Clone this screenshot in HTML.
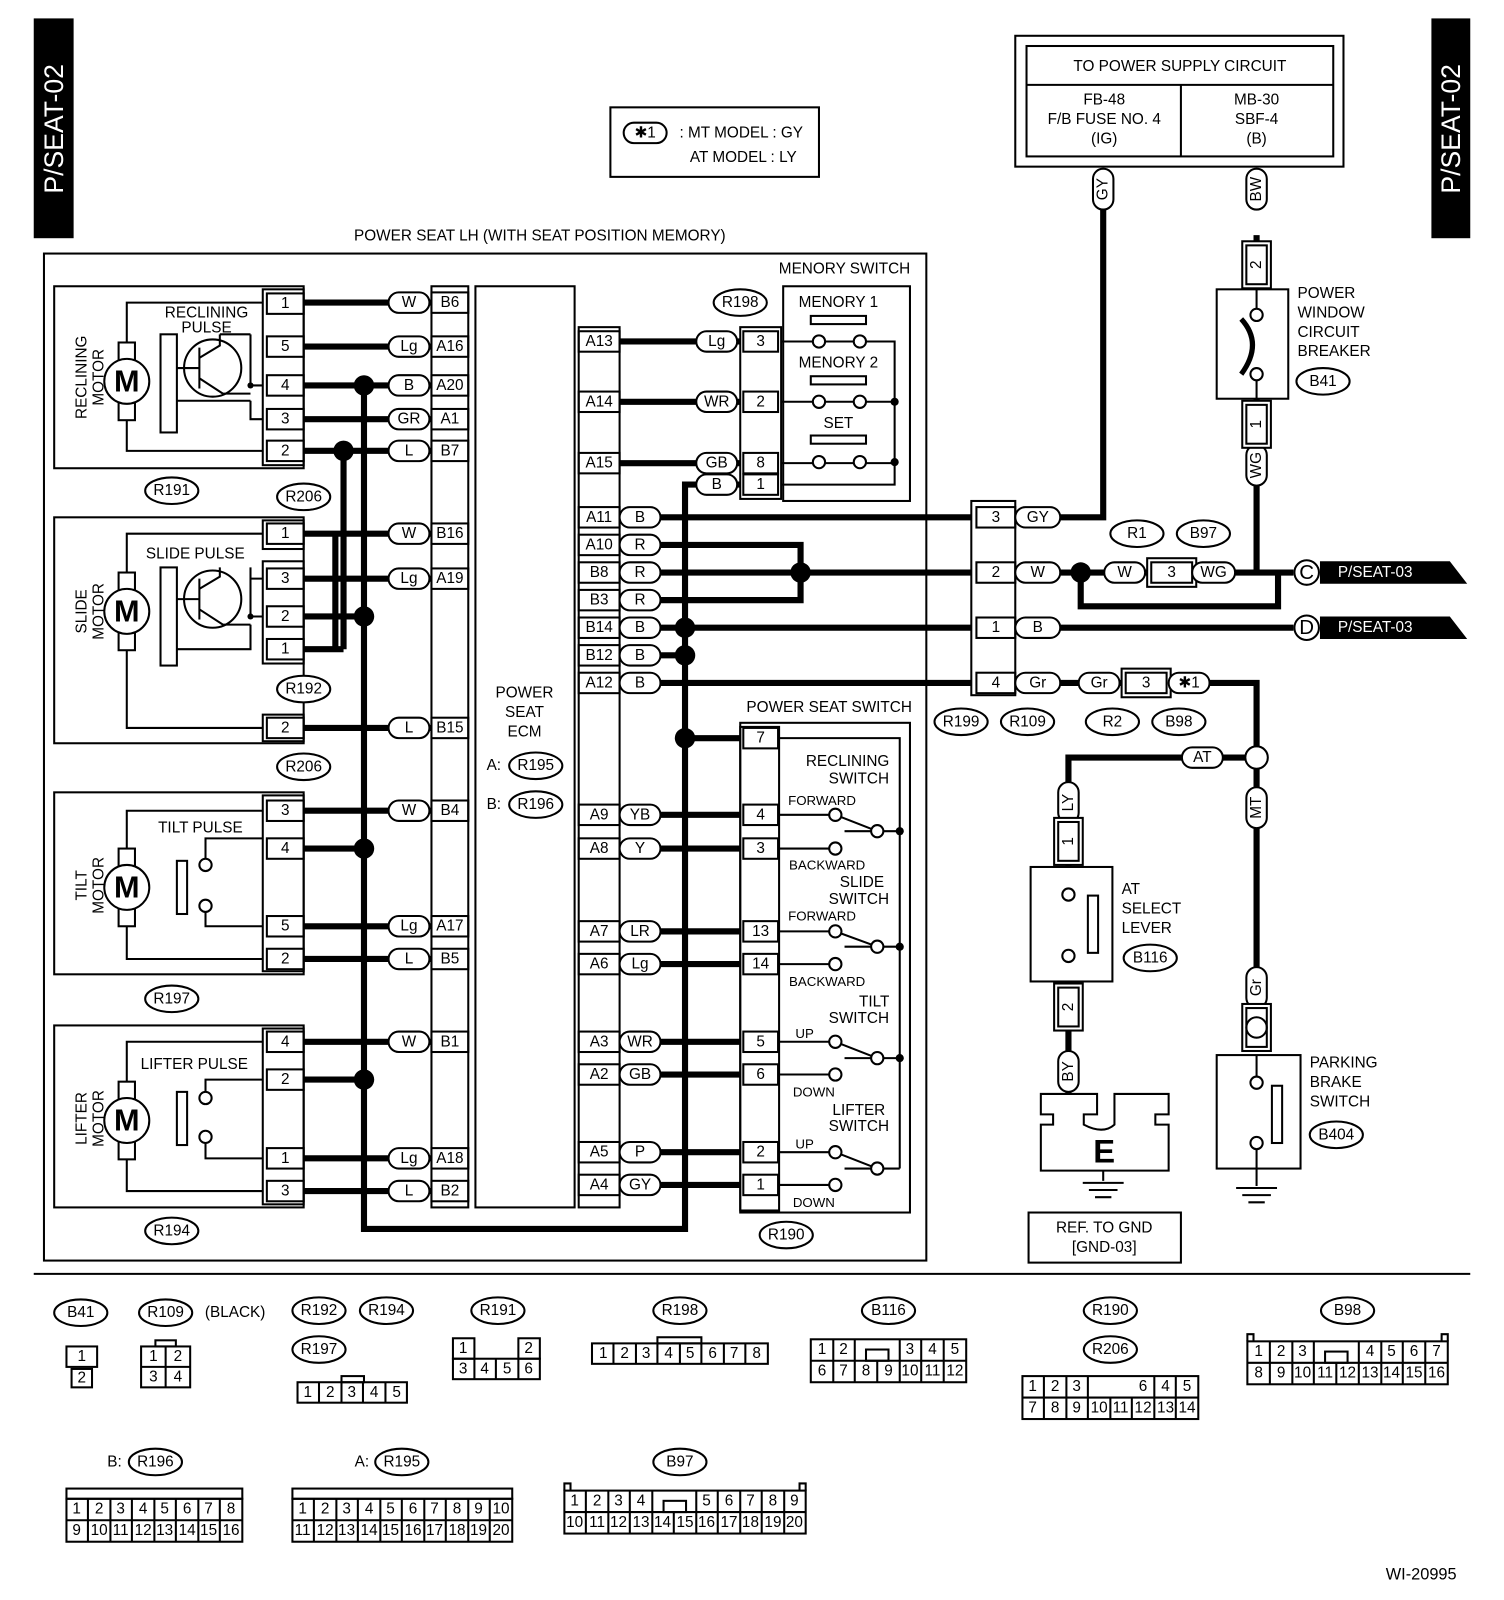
<!DOCTYPE html>
<html><head><meta charset="utf-8"><style>
html,body{margin:0;padding:0;background:#fff}
svg{display:block}
text{font-family:"Liberation Sans",sans-serif;font-size:15px;fill:#000;text-anchor:middle;dominant-baseline:central}
.t{stroke:#000;stroke-width:6;fill:none}
.n{stroke:#000;stroke-width:2;fill:none}
.o{stroke:#000;stroke-width:2;fill:#fff}
.s{font-size:13px}
</style></head><body>
<svg width="1504" height="1600" viewBox="0 0 1471 1565" preserveAspectRatio="none" xmlns="http://www.w3.org/2000/svg">
<rect x="33" y="18" width="39" height="215" fill="#000"/>
<text transform="translate(53,126) rotate(-90)" style="fill:#fff;font-size:26px">P/SEAT-02</text>
<rect x="1400" y="18" width="38" height="215" fill="#000"/>
<text transform="translate(1419,126) rotate(-90)" style="fill:#fff;font-size:26px">P/SEAT-02</text>

<rect x="597" y="105" width="204" height="68" class="n"/>
<rect x="610" y="120" width="42" height="20" rx="10" class="o"/>
<text x="631" y="130">✱1</text>
<text x="725" y="130">: MT MODEL : GY</text>
<text x="727" y="154">AT MODEL  : LY</text>

<rect x="993" y="35" width="321" height="128" class="n"/>
<rect x="1004" y="45" width="300" height="108" class="n"/>
<line x1="1004" y1="83" x2="1304" y2="83" class="n"/>
<line x1="1155" y1="83" x2="1155" y2="153" class="n"/>
<text x="1154" y="65">TO POWER SUPPLY CIRCUIT</text>
<text x="1080" y="98">FB-48</text><text x="1080" y="117">F/B FUSE NO. 4</text><text x="1080" y="136">(IG)</text>
<text x="1229" y="98">MB-30</text><text x="1229" y="117">SBF-4</text><text x="1229" y="136">(B)</text>

<text x="528" y="231">POWER SEAT LH (WITH SEAT POSITION MEMORY)</text>
<rect x="43" y="248" width="863" height="985" class="n"/>

<rect x="53" y="280" width="244" height="178" class="n"/>
<rect x="53" y="506" width="244" height="221" class="n"/>
<rect x="53" y="775" width="244" height="178" class="n"/>
<rect x="53" y="1003" width="244" height="178" class="n"/>
<text transform="translate(80,369) rotate(-90)">RECLINING</text><text transform="translate(97,369) rotate(-90)">MOTOR</text>
<text transform="translate(80,598) rotate(-90)">SLIDE</text><text transform="translate(97,598) rotate(-90)">MOTOR</text>
<text transform="translate(80,866) rotate(-90)">TILT</text><text transform="translate(97,866) rotate(-90)">MOTOR</text>
<text transform="translate(80,1094) rotate(-90)">LIFTER</text><text transform="translate(97,1094) rotate(-90)">MOTOR</text>
<g>
<rect x="116" y="335" width="16" height="76" class="n"/><circle cx="124" cy="373" r="22" class="o"/><text x="124" y="373" style="font-size:30px;font-weight:bold">M</text>
<rect x="116" y="560" width="16" height="76" class="n"/><circle cx="124" cy="598" r="22" class="o"/><text x="124" y="598" style="font-size:30px;font-weight:bold">M</text>
<rect x="116" y="830" width="16" height="76" class="n"/><circle cx="124" cy="868" r="22" class="o"/><text x="124" y="868" style="font-size:30px;font-weight:bold">M</text>
<rect x="116" y="1058" width="16" height="76" class="n"/><circle cx="124" cy="1096" r="22" class="o"/><text x="124" y="1096" style="font-size:30px;font-weight:bold">M</text>
</g>
<path class="n" d="M124,335 V296 H257 M124,411 V441 H257 M124,560 V522 H257 M124,636 V712 H257 M124,830 V793 H257 M124,906 V938 H257 M124,1058 V1019 H257 M124,1134 V1165 H257"/>
<text x="202" y="306">RECLINING</text><text x="202" y="321">PULSE</text>
<rect x="157" y="327" width="16" height="96" class="n"/><circle cx="208" cy="360" r="28" class="n"/>
<path class="n" d="M195,340 V380 M195,360 H173 M195,350 L215,338 V327 M195,370 L218,385 M218,385 H245 M245,327 V377 H257 M245,392 V410 H257 M173,392 H245 M215,327 H245"/>
<circle cx="245" cy="377" r="3"/>
<text x="191" y="542">SLIDE PULSE</text>
<rect x="157" y="555" width="16" height="96" class="n"/><circle cx="208" cy="586" r="28" class="n"/>
<path class="n" d="M195,566 V606 M195,586 H173 M195,576 L215,564 V555 M195,596 L218,611 H245 M245,555 V603 H257 M245,566 H257 M173,635 H245 V611"/>
<circle cx="245" cy="603" r="3"/>
<text x="196" y="810">TILT PULSE</text>
<rect x="173" y="842" width="10" height="52" class="n"/><circle cx="201" cy="846" r="6" class="o"/><circle cx="201" cy="886" r="6" class="o"/>
<path class="n" d="M201,840 V820 H257 M201,892 V906 H257"/>
<text x="190" y="1041">LIFTER PULSE</text>
<rect x="173" y="1068" width="10" height="52" class="n"/><circle cx="201" cy="1074" r="6" class="o"/><circle cx="201" cy="1112" r="6" class="o"/>
<path class="n" d="M201,1068 V1056 H257 M201,1118 V1133 H257"/>

<g class="n">
<rect x="257" y="283" width="40" height="172"/><rect x="261" y="287" width="36" height="20"/>
<rect x="261" y="329" width="36" height="20"/><rect x="261" y="367" width="36" height="20"/><rect x="261" y="400" width="36" height="20"/><rect x="261" y="431" width="36" height="20"/>
<rect x="257" y="509" width="40" height="28"/><rect x="261" y="512" width="36" height="20"/>
<rect x="257" y="549" width="40" height="100"/><rect x="261" y="556" width="36" height="20"/><rect x="261" y="593" width="36" height="20"/><rect x="261" y="625" width="36" height="20"/>
<rect x="257" y="699" width="40" height="26"/><rect x="261" y="702" width="36" height="20"/>
<rect x="257" y="778" width="40" height="172"/><rect x="261" y="783" width="36" height="20"/><rect x="261" y="820" width="36" height="20"/><rect x="261" y="896" width="36" height="20"/><rect x="261" y="928" width="36" height="20"/>
<rect x="257" y="1006" width="40" height="172"/><rect x="261" y="1009" width="36" height="20"/><rect x="261" y="1046" width="36" height="20"/><rect x="261" y="1123" width="36" height="20"/><rect x="261" y="1155" width="36" height="20"/>
</g>
<text x="279" y="297">1</text><text x="279" y="339">5</text><text x="279" y="377">4</text><text x="279" y="410">3</text><text x="279" y="441">2</text>
<text x="279" y="522">1</text><text x="279" y="566">3</text><text x="279" y="603">2</text><text x="279" y="635">1</text><text x="279" y="712">2</text>
<text x="279" y="793">3</text><text x="279" y="830">4</text><text x="279" y="906">5</text><text x="279" y="938">2</text>
<text x="279" y="1019">4</text><text x="279" y="1056">2</text><text x="279" y="1133">1</text><text x="279" y="1165">3</text>

<path class="t" d="M297,296H422 M297,339H422 M297,377H422 M297,410H422 M297,441H422 M297,522H422 M297,566H422 M297,603H356 M297,635H336 M297,712H422 M297,793H422 M297,830H356 M297,906H422 M297,938H422 M297,1019H422 M297,1056H356 M297,1133H422 M297,1165H422"/>
<path class="t" d="M356,377V1202H670V474H700 M336,441V635 M328,522V635"/>
<circle cx="356" cy="377" r="10"/><circle cx="336" cy="441" r="10"/><circle cx="356" cy="603" r="10"/><circle cx="356" cy="830" r="10"/><circle cx="356" cy="1056" r="10"/>
<g>
<rect x="380" y="286" width="40" height="20" rx="10" class="o"/><text x="400" y="296">W</text>
<rect x="380" y="329" width="40" height="20" rx="10" class="o"/><text x="400" y="339">Lg</text>
<rect x="380" y="367" width="40" height="20" rx="10" class="o"/><text x="400" y="377">B</text>
<rect x="380" y="400" width="40" height="20" rx="10" class="o"/><text x="400" y="410">GR</text>
<rect x="380" y="431" width="40" height="20" rx="10" class="o"/><text x="400" y="441">L</text>
<rect x="380" y="512" width="40" height="20" rx="10" class="o"/><text x="400" y="522">W</text>
<rect x="380" y="556" width="40" height="20" rx="10" class="o"/><text x="400" y="566">Lg</text>
<rect x="380" y="702" width="40" height="20" rx="10" class="o"/><text x="400" y="712">L</text>
<rect x="380" y="783" width="40" height="20" rx="10" class="o"/><text x="400" y="793">W</text>
<rect x="380" y="896" width="40" height="20" rx="10" class="o"/><text x="400" y="906">Lg</text>
<rect x="380" y="928" width="40" height="20" rx="10" class="o"/><text x="400" y="938">L</text>
<rect x="380" y="1009" width="40" height="20" rx="10" class="o"/><text x="400" y="1019">W</text>
<rect x="380" y="1123" width="40" height="20" rx="10" class="o"/><text x="400" y="1133">Lg</text>
<rect x="380" y="1155" width="40" height="20" rx="10" class="o"/><text x="400" y="1165">L</text>
</g>
<rect x="422" y="280" width="36" height="901" class="n"/>
<rect x="465" y="280" width="97" height="901" class="n"/>
<g class="n">
<rect x="422" y="286" width="36" height="20"/><rect x="422" y="329" width="36" height="20"/><rect x="422" y="367" width="36" height="20"/><rect x="422" y="400" width="36" height="20"/><rect x="422" y="431" width="36" height="20"/><rect x="422" y="512" width="36" height="20"/><rect x="422" y="556" width="36" height="20"/><rect x="422" y="702" width="36" height="20"/><rect x="422" y="783" width="36" height="20"/><rect x="422" y="896" width="36" height="20"/><rect x="422" y="928" width="36" height="20"/><rect x="422" y="1009" width="36" height="20"/><rect x="422" y="1123" width="36" height="20"/><rect x="422" y="1155" width="36" height="20"/>
</g>
<text x="440" y="296">B6</text><text x="440" y="339">A16</text><text x="440" y="377">A20</text><text x="440" y="410">A1</text><text x="440" y="441">B7</text><text x="440" y="522">B16</text><text x="440" y="566">A19</text><text x="440" y="712">B15</text><text x="440" y="793">B4</text><text x="440" y="906">A17</text><text x="440" y="938">B5</text><text x="440" y="1019">B1</text><text x="440" y="1133">A18</text><text x="440" y="1165">B2</text>
<text x="513" y="678">POWER</text><text x="513" y="697">SEAT</text><text x="513" y="716">ECM</text>
<text x="483" y="749">A:</text><ellipse cx="524" cy="749" rx="26" ry="13" class="o"/><text x="524" y="749">R195</text>
<text x="483" y="787">B:</text><ellipse cx="524" cy="787" rx="26" ry="13" class="o"/><text x="524" y="787">R196</text>

<rect x="566" y="320" width="40" height="861" class="n"/>
<g class="n">
<rect x="566" y="324" width="40" height="20"/><rect x="566" y="383" width="40" height="20"/><rect x="566" y="443" width="40" height="20"/><rect x="566" y="496" width="40" height="20"/><rect x="566" y="523" width="40" height="20"/><rect x="566" y="550" width="40" height="20"/><rect x="566" y="577" width="40" height="20"/><rect x="566" y="604" width="40" height="20"/><rect x="566" y="631" width="40" height="20"/><rect x="566" y="658" width="40" height="20"/><rect x="566" y="787" width="40" height="20"/><rect x="566" y="820" width="40" height="20"/><rect x="566" y="901" width="40" height="20"/><rect x="566" y="933" width="40" height="20"/><rect x="566" y="1009" width="40" height="20"/><rect x="566" y="1041" width="40" height="20"/><rect x="566" y="1117" width="40" height="20"/><rect x="566" y="1149" width="40" height="20"/>
</g>
<text x="586" y="334">A13</text><text x="586" y="393">A14</text><text x="586" y="453">A15</text><text x="586" y="506">A11</text><text x="586" y="533">A10</text><text x="586" y="560">B8</text><text x="586" y="587">B3</text><text x="586" y="614">B14</text><text x="586" y="641">B12</text><text x="586" y="668">A12</text><text x="586" y="797">A9</text><text x="586" y="830">A8</text><text x="586" y="911">A7</text><text x="586" y="943">A6</text><text x="586" y="1019">A3</text><text x="586" y="1051">A2</text><text x="586" y="1127">A5</text><text x="586" y="1159">A4</text>

<path class="t" d="M606,334H724 M606,393H724 M606,453H724 M700,474H724 M606,506H950 M606,533H783V587H606 M606,560H950 M606,614H950 M606,641H670 M606,668H950 M670,722H724 M606,797H724 M606,830H724 M606,911H724 M606,943H724 M606,1019H724 M606,1051H724 M606,1127H724 M606,1159H724"/>
<circle cx="783" cy="560" r="10"/><circle cx="670" cy="614" r="10"/><circle cx="670" cy="641" r="10"/><circle cx="670" cy="722" r="10"/>
<g>
<rect x="606" y="496" width="40" height="20" rx="10" class="o"/><text x="626" y="506">B</text>
<rect x="606" y="523" width="40" height="20" rx="10" class="o"/><text x="626" y="533">R</text>
<rect x="606" y="550" width="40" height="20" rx="10" class="o"/><text x="626" y="560">R</text>
<rect x="606" y="577" width="40" height="20" rx="10" class="o"/><text x="626" y="587">R</text>
<rect x="606" y="604" width="40" height="20" rx="10" class="o"/><text x="626" y="614">B</text>
<rect x="606" y="631" width="40" height="20" rx="10" class="o"/><text x="626" y="641">B</text>
<rect x="606" y="658" width="40" height="20" rx="10" class="o"/><text x="626" y="668">B</text>
<rect x="606" y="787" width="40" height="20" rx="10" class="o"/><text x="626" y="797">YB</text>
<rect x="606" y="820" width="40" height="20" rx="10" class="o"/><text x="626" y="830">Y</text>
<rect x="606" y="901" width="40" height="20" rx="10" class="o"/><text x="626" y="911">LR</text>
<rect x="606" y="933" width="40" height="20" rx="10" class="o"/><text x="626" y="943">Lg</text>
<rect x="606" y="1009" width="40" height="20" rx="10" class="o"/><text x="626" y="1019">WR</text>
<rect x="606" y="1041" width="40" height="20" rx="10" class="o"/><text x="626" y="1051">GB</text>
<rect x="606" y="1117" width="40" height="20" rx="10" class="o"/><text x="626" y="1127">P</text>
<rect x="606" y="1149" width="40" height="20" rx="10" class="o"/><text x="626" y="1159">GY</text>
<rect x="681" y="324" width="40" height="20" rx="10" class="o"/><text x="701" y="334">Lg</text>
<rect x="681" y="383" width="40" height="20" rx="10" class="o"/><text x="701" y="393">WR</text>
<rect x="681" y="443" width="40" height="20" rx="10" class="o"/><text x="701" y="453">GB</text>
<rect x="681" y="464" width="40" height="20" rx="10" class="o"/><text x="701" y="474">B</text>
</g>

<text x="826" y="263">MENORY SWITCH</text>
<ellipse cx="724" cy="296" rx="26" ry="13" class="o"/><text x="724" y="296">R198</text>
<rect x="766" y="280" width="124" height="210" class="n"/>
<rect x="724" y="320" width="40" height="168" class="n"/>
<g class="n"><rect x="727" y="324" width="34" height="20"/><rect x="727" y="383" width="34" height="20"/><rect x="727" y="443" width="34" height="20"/><rect x="727" y="464" width="34" height="20"/></g>
<text x="744" y="334">3</text><text x="744" y="393">2</text><text x="744" y="453">8</text><text x="744" y="474">1</text>
<text x="820" y="296">MENORY 1</text><text x="820" y="355">MENORY 2</text><text x="820" y="414">SET</text>
<g class="n">
<rect x="793" y="309" width="54" height="8"/><rect x="793" y="368" width="54" height="8"/><rect x="793" y="426" width="54" height="8"/>
<path d="M764,334H795 M807,334H835 M847,334H875V452 M764,393H795 M807,393H835 M847,393H875 M764,453H795 M807,453H835 M847,453H875 M764,474H875V452"/>
</g>
<circle cx="801" cy="334" r="6" class="o"/><circle cx="841" cy="334" r="6" class="o"/><circle cx="801" cy="393" r="6" class="o"/><circle cx="841" cy="393" r="6" class="o"/><circle cx="801" cy="452" r="6" class="o"/><circle cx="841" cy="452" r="6" class="o"/>
<circle cx="875" cy="393" r="4"/><circle cx="875" cy="452" r="4"/>

<text x="811" y="692">POWER SEAT SWITCH</text>
<rect x="724" y="707" width="166" height="479" class="n"/>
<rect x="724" y="711" width="38" height="473" class="n"/>
<g class="n"><rect x="727" y="712" width="34" height="20"/><rect x="727" y="787" width="34" height="20"/><rect x="727" y="820" width="34" height="20"/><rect x="727" y="901" width="34" height="20"/><rect x="727" y="933" width="34" height="20"/><rect x="727" y="1009" width="34" height="20"/><rect x="727" y="1041" width="34" height="20"/><rect x="727" y="1117" width="34" height="20"/><rect x="727" y="1149" width="34" height="20"/></g>
<text x="744" y="722">7</text><text x="744" y="797">4</text><text x="744" y="830">3</text><text x="744" y="911">13</text><text x="744" y="943">14</text><text x="744" y="1019">5</text><text x="744" y="1051">6</text><text x="744" y="1127">2</text><text x="744" y="1159">1</text>
<text x="829" y="745">RECLINING</text><text x="840" y="762">SWITCH</text>
<text x="804" y="783" class="s">FORWARD</text><text x="809" y="846" class="s">BACKWARD</text>
<text x="843" y="863">SLIDE</text><text x="840" y="880">SWITCH</text>
<text x="804" y="896" class="s">FORWARD</text><text x="809" y="960" class="s">BACKWARD</text>
<text x="855" y="980">TILT</text><text x="840" y="996">SWITCH</text>
<text x="787" y="1011" class="s">UP</text><text x="796" y="1068" class="s">DOWN</text>
<text x="840" y="1086">LIFTER</text><text x="840" y="1102">SWITCH</text>
<text x="787" y="1119" class="s">UP</text><text x="796" y="1176" class="s">DOWN</text>
<g class="n">
<path d="M762,722H880V1143 M762,797H817 M762,830H817 M762,911H817 M762,943H817 M762,1019H817 M762,1051H817 M762,1127H817 M762,1159H817"/>
<path d="M826,813H880 M826,926H880 M826,1035H880 M826,1143H880"/>
<path d="M817,797L858,813 M817,911L858,926 M817,1019L858,1035 M817,1127L858,1143"/>
</g>
<g>
<circle cx="817" cy="797" r="6" class="o"/><circle cx="817" cy="830" r="6" class="o"/><circle cx="858" cy="813" r="6" class="o"/>
<circle cx="817" cy="911" r="6" class="o"/><circle cx="817" cy="943" r="6" class="o"/><circle cx="858" cy="926" r="6" class="o"/>
<circle cx="817" cy="1019" r="6" class="o"/><circle cx="817" cy="1051" r="6" class="o"/><circle cx="858" cy="1035" r="6" class="o"/>
<circle cx="817" cy="1127" r="6" class="o"/><circle cx="817" cy="1159" r="6" class="o"/><circle cx="858" cy="1143" r="6" class="o"/>
<circle cx="880" cy="813" r="4"/><circle cx="880" cy="926" r="4"/><circle cx="880" cy="1035" r="4"/>
</g>

<g>
<ellipse cx="168" cy="480" rx="26" ry="13" class="o"/><text x="168" y="480">R191</text>
<ellipse cx="297" cy="486" rx="26" ry="13" class="o"/><text x="297" y="486">R206</text>
<ellipse cx="297" cy="674" rx="26" ry="13" class="o"/><text x="297" y="674">R192</text>
<ellipse cx="297" cy="750" rx="26" ry="13" class="o"/><text x="297" y="750">R206</text>
<ellipse cx="168" cy="977" rx="26" ry="13" class="o"/><text x="168" y="977">R197</text>
<ellipse cx="168" cy="1204" rx="26" ry="13" class="o"/><text x="168" y="1204">R194</text>
<ellipse cx="769" cy="1208" rx="26" ry="13" class="o"/><text x="769" y="1208">R190</text>
</g>

<rect x="950" y="490" width="43" height="190" class="n"/>
<g class="n"><rect x="955" y="496" width="38" height="20"/><rect x="955" y="550" width="38" height="20"/><rect x="955" y="604" width="38" height="20"/><rect x="955" y="658" width="38" height="20"/></g>
<text x="974" y="506">3</text><text x="974" y="560">2</text><text x="974" y="614">1</text><text x="974" y="668">4</text>
<ellipse cx="940" cy="706" rx="26" ry="13" class="o"/><text x="940" y="706">R199</text>
<ellipse cx="1005" cy="706" rx="26" ry="13" class="o"/><text x="1005" y="706">R109</text>
<ellipse cx="1088" cy="706" rx="26" ry="13" class="o"/><text x="1088" y="706">R2</text>
<ellipse cx="1153" cy="706" rx="26" ry="13" class="o"/><text x="1153" y="706">B98</text>
<ellipse cx="1112" cy="522" rx="26" ry="13" class="o"/><text x="1112" y="522">R1</text>
<ellipse cx="1177" cy="522" rx="26" ry="13" class="o"/><text x="1177" y="522">B97</text>

<path class="t" d="M993,506H1079V205 M993,560H1250 M1229,560V470 M1057,560V593H1250V560H1265 M993,614H1265 M993,668H1229V741 M1229,741H1045V770 M1229,741V1005 M1045,800V848 M1045,960V1070 M1229,230V283 M1229,390V440"/>
<circle cx="1057" cy="560" r="10"/>
<circle cx="1229" cy="741" r="11" class="o"/>
<g>
<rect x="993" y="496" width="44" height="20" rx="10" class="o"/><text x="1015" y="506">GY</text>
<rect x="993" y="550" width="44" height="20" rx="10" class="o"/><text x="1015" y="560">W</text>
<rect x="993" y="604" width="44" height="20" rx="10" class="o"/><text x="1015" y="614">B</text>
<rect x="993" y="658" width="44" height="20" rx="10" class="o"/><text x="1015" y="668">Gr</text>
<rect x="1080" y="550" width="40" height="20" rx="10" class="o"/><text x="1100" y="560">W</text>
<rect x="1122" y="546" width="48" height="28" class="o"/><rect x="1126" y="550" width="40" height="20" class="n"/><text x="1146" y="560">3</text>
<rect x="1166" y="550" width="42" height="20" rx="10" class="o"/><text x="1187" y="560">WG</text>
<rect x="1055" y="658" width="40" height="20" rx="10" class="o"/><text x="1075" y="668">Gr</text>
<rect x="1097" y="654" width="48" height="28" class="o"/><rect x="1101" y="658" width="40" height="20" class="n"/><text x="1121" y="668">3</text>
<rect x="1143" y="658" width="40" height="20" rx="10" class="o"/><text x="1163" y="668">✱1</text>
<rect x="1156" y="731" width="40" height="20" rx="10" class="o"/><text x="1176" y="741">AT</text>
</g>
<g>
<rect x="1069" y="165" width="20" height="40" rx="10" class="o"/><text transform="translate(1079,185) rotate(-90)">GY</text>
<rect x="1219" y="165" width="20" height="40" rx="10" class="o"/><text transform="translate(1229,185) rotate(-90)">BW</text>
<rect x="1219" y="435" width="20" height="40" rx="10" class="o"/><text transform="translate(1229,455) rotate(-90)">WG</text>
<rect x="1035" y="765" width="20" height="40" rx="10" class="o"/><text transform="translate(1045,785) rotate(-90)">LY</text>
<rect x="1219" y="770" width="20" height="40" rx="10" class="o"/><text transform="translate(1229,790) rotate(-90)">MT</text>
<rect x="1219" y="946" width="20" height="40" rx="10" class="o"/><text transform="translate(1229,966) rotate(-90)">Gr</text>
<rect x="1035" y="1028" width="20" height="40" rx="10" class="o"/><text transform="translate(1045,1048) rotate(-90)">BY</text>
</g>
<circle cx="1278" cy="560" r="12" class="o"/><text x="1278" y="560" style="font-size:20px">C</text>
<polygon points="1291,549 1418,549 1435,571 1291,571"/><text x="1345" y="560" style="fill:#fff">P/SEAT-03</text>
<circle cx="1278" cy="614" r="12" class="o"/><text x="1278" y="614" style="font-size:20px">D</text>
<polygon points="1291,603 1418,603 1435,625 1291,625"/><text x="1345" y="614" style="fill:#fff">P/SEAT-03</text>

<rect x="1215" y="236" width="28" height="46" class="o"/><rect x="1219" y="240" width="20" height="38" class="n"/><text transform="translate(1229,259) rotate(-90)">2</text>
<rect x="1190" y="283" width="70" height="107" class="n"/>
<path class="n" d="M1229,283V305 M1229,370V390" /><path d="M1214,312 Q1236,336 1214,366" style="stroke:#000;stroke-width:5;fill:none"/>
<circle cx="1229" cy="308" r="6" class="o"/><circle cx="1229" cy="366" r="6" class="o"/>
<rect x="1215" y="392" width="28" height="46" class="o"/><rect x="1219" y="396" width="20" height="38" class="n"/><text transform="translate(1229,415) rotate(-90)">1</text>
<text x="1269" y="287" style="text-anchor:start">POWER</text><text x="1269" y="306" style="text-anchor:start">WINDOW</text><text x="1269" y="325" style="text-anchor:start">CIRCUIT</text><text x="1269" y="344" style="text-anchor:start">BREAKER</text>
<ellipse cx="1294" cy="373" rx="26" ry="13" class="o"/><text x="1294" y="373">B41</text>

<rect x="1031" y="800" width="28" height="46" class="o"/><rect x="1035" y="804" width="20" height="38" class="n"/><text transform="translate(1045,823) rotate(-90)">1</text>
<rect x="1008" y="848" width="80" height="112" class="n"/>
<rect x="1064" y="876" width="10" height="56" class="n"/>
<circle cx="1045" cy="875" r="6" class="o"/><circle cx="1045" cy="935" r="6" class="o"/>
<text x="1097" y="870" style="text-anchor:start">AT</text><text x="1097" y="889" style="text-anchor:start">SELECT</text><text x="1097" y="908" style="text-anchor:start">LEVER</text>
<ellipse cx="1125" cy="937" rx="26" ry="13" class="o"/><text x="1125" y="937">B116</text>
<rect x="1031" y="962" width="28" height="46" class="o"/><rect x="1035" y="966" width="20" height="38" class="n"/><text transform="translate(1045,985) rotate(-90)">2</text>
<path d="M1018,1070H1073V1090H1060V1100Q1079,1110 1090,1100V1090H1090V1070H1143V1090H1130V1100H1143V1145H1018V1100H1030V1090H1018Z" class="n"/>
<text x="1080" y="1126" style="font-size:32px;font-weight:bold">E</text>
<path class="n" d="M1079,1145V1155 M1059,1157H1099 M1065,1164H1093 M1071,1171H1087"/>
<rect x="1006" y="1186" width="149" height="49" class="n"/>
<text x="1080" y="1201">REF. TO GND</text><text x="1080" y="1220">[GND-03]</text>
<rect x="1215" y="982" width="28" height="46" class="o"/><rect x="1219" y="986" width="20" height="38" class="n"/><circle cx="1229" cy="1005" r="10" class="n"/>
<rect x="1190" y="1032" width="82" height="111" class="n"/>
<rect x="1244" y="1062" width="10" height="56" class="n"/>
<circle cx="1229" cy="1059" r="6" class="o"/><circle cx="1229" cy="1118" r="6" class="o"/>
<path class="n" d="M1229,1032V1053 M1229,1124V1160 M1209,1162H1249 M1215,1169H1243 M1221,1176H1237"/>
<text x="1281" y="1040" style="text-anchor:start">PARKING</text><text x="1281" y="1059" style="text-anchor:start">BRAKE</text><text x="1281" y="1078" style="text-anchor:start">SWITCH</text>
<ellipse cx="1307" cy="1110" rx="26" ry="13" class="o"/><text x="1307" y="1110">B404</text>

<line x1="33" y1="1246" x2="1438" y2="1246" class="n"/>

<g>
<ellipse cx="79" cy="1284" rx="26" ry="13" class="o"/><text x="79" y="1284">B41</text>
<ellipse cx="162" cy="1284" rx="26" ry="13" class="o"/><text x="162" y="1284">R109</text><text x="230" y="1284">(BLACK)</text>
<ellipse cx="312" cy="1282" rx="26" ry="13" class="o"/><text x="312" y="1282">R192</text>
<ellipse cx="378" cy="1282" rx="26" ry="13" class="o"/><text x="378" y="1282">R194</text>
<ellipse cx="312" cy="1320" rx="26" ry="13" class="o"/><text x="312" y="1320">R197</text>
<ellipse cx="487" cy="1282" rx="26" ry="13" class="o"/><text x="487" y="1282">R191</text>
<ellipse cx="665" cy="1282" rx="26" ry="13" class="o"/><text x="665" y="1282">R198</text>
<ellipse cx="869" cy="1282" rx="26" ry="13" class="o"/><text x="869" y="1282">B116</text>
<ellipse cx="1086" cy="1282" rx="26" ry="13" class="o"/><text x="1086" y="1282">R190</text>
<ellipse cx="1086" cy="1320" rx="26" ry="13" class="o"/><text x="1086" y="1320">R206</text>
<ellipse cx="1318" cy="1282" rx="26" ry="13" class="o"/><text x="1318" y="1282">B98</text>
<text x="112" y="1430">B:</text><ellipse cx="152" cy="1430" rx="26" ry="13" class="o"/><text x="152" y="1430">R196</text>
<text x="354" y="1430">A:</text><ellipse cx="393" cy="1430" rx="26" ry="13" class="o"/><text x="393" y="1430">R195</text>
<ellipse cx="665" cy="1430" rx="26" ry="13" class="o"/><text x="665" y="1430">B97</text>
</g>
<g class="n">
<rect x="65" y="1317" width="30" height="20"/><rect x="70" y="1339" width="20" height="18"/>
<rect x="138" y="1317" width="48" height="40"/><line x1="162" y1="1317" x2="162" y2="1357"/><line x1="138" y1="1337" x2="186" y2="1337"/><rect x="152" y="1311" width="20" height="6"/>
<rect x="291" y="1352" width="107" height="20"/><path d="M312,1352V1372 M334,1352V1372 M355,1352V1372 M377,1352V1372"/><rect x="334" y="1346" width="22" height="6"/>
<rect x="443" y="1309" width="21" height="20"/><rect x="507" y="1309" width="21" height="20"/><rect x="443" y="1329" width="85" height="20"/><path d="M464,1329V1349 M485,1329V1349 M507,1329V1349"/>
<rect x="579" y="1314" width="172" height="20"/><path d="M600,1314V1334 M622,1314V1334 M643,1314V1334 M665,1314V1334 M686,1314V1334 M708,1314V1334 M729,1314V1334"/><rect x="643" y="1308" width="43" height="6"/>
<rect x="793" y="1310" width="152" height="42"/><line x1="793" y1="1331" x2="945" y2="1331"/>
<path d="M815,1310V1352 M836,1331V1352 M858,1331V1352 M880,1310V1352 M901,1310V1352 M923,1310V1352 M836,1310V1331"/><rect x="847" y="1320" width="22" height="11"/>
<rect x="1000" y="1346" width="172" height="42"/><line x1="1000" y1="1367" x2="1172" y2="1367"/>
<path d="M1021,1346V1388 M1043,1346V1388 M1064,1346V1388 M1086,1367V1388 M1107,1367V1388 M1129,1346V1388 M1150,1346V1388"/>
<rect x="1220" y="1312" width="196" height="42"/><line x1="1220" y1="1333" x2="1416" y2="1333"/>
<path d="M1242,1312V1354 M1264,1312V1354 M1285,1333V1354 M1307,1333V1354 M1329,1312V1354 M1351,1312V1354 M1372,1312V1354 M1394,1312V1354 M1285,1312V1333"/><rect x="1296" y="1322" width="22" height="11"/><path d="M1220,1312V1305H1226V1312 M1410,1312V1305H1416V1312"/>
<rect x="65" y="1456" width="172" height="10"/><rect x="65" y="1466" width="172" height="42"/><line x1="65" y1="1487" x2="237" y2="1487"/>
<path d="M86,1466V1508 M108,1466V1508 M129,1466V1508 M151,1466V1508 M172,1466V1508 M194,1466V1508 M215,1466V1508"/>
<rect x="286" y="1456" width="215" height="10"/><rect x="286" y="1466" width="215" height="42"/><line x1="286" y1="1487" x2="501" y2="1487"/>
<path d="M307,1466V1508 M329,1466V1508 M350,1466V1508 M372,1466V1508 M393,1466V1508 M415,1466V1508 M436,1466V1508 M458,1466V1508 M479,1466V1508"/>
<rect x="552" y="1458" width="236" height="42"/><line x1="552" y1="1479" x2="788" y2="1479"/>
<path d="M573,1458V1500 M595,1458V1500 M616,1458V1500 M638,1479V1500 M659,1479V1500 M681,1458V1500 M702,1458V1500 M724,1458V1500 M745,1458V1500 M767,1458V1500 M638,1458V1479"/><rect x="649" y="1468" width="22" height="11"/><path d="M552,1458V1451H558V1458 M782,1458V1451H788V1458"/>
</g>
<g style="font-size:14px">
<text x="80" y="1327">1</text><text x="80" y="1348">2</text>
<text x="150" y="1327">1</text><text x="174" y="1327">2</text><text x="150" y="1347">3</text><text x="174" y="1347">4</text>
<text x="301" y="1362">1</text><text x="323" y="1362">2</text><text x="344" y="1362">3</text><text x="366" y="1362">4</text><text x="388" y="1362">5</text>
<text x="453" y="1319">1</text><text x="517" y="1319">2</text><text x="453" y="1339">3</text><text x="474" y="1339">4</text><text x="496" y="1339">5</text><text x="517" y="1339">6</text>
<text x="590" y="1324">1</text><text x="611" y="1324">2</text><text x="632" y="1324">3</text><text x="654" y="1324">4</text><text x="675" y="1324">5</text><text x="697" y="1324">6</text><text x="718" y="1324">7</text><text x="740" y="1324">8</text>
<text x="804" y="1320">1</text><text x="825" y="1320">2</text><text x="890" y="1320">3</text><text x="912" y="1320">4</text><text x="934" y="1320">5</text>
<text x="804" y="1341">6</text><text x="825" y="1341">7</text><text x="847" y="1341">8</text><text x="869" y="1341">9</text><text x="890" y="1341">10</text><text x="912" y="1341">11</text><text x="934" y="1341">12</text>
<text x="1010" y="1356">1</text><text x="1032" y="1356">2</text><text x="1053" y="1356">3</text><text x="1140" y="1356">4</text><text x="1161" y="1356">5</text><text x="1118" y="1356">6</text>
<text x="1010" y="1377">7</text><text x="1032" y="1377">8</text><text x="1053" y="1377">9</text><text x="1075" y="1377">10</text><text x="1096" y="1377">11</text><text x="1118" y="1377">12</text><text x="1140" y="1377">13</text><text x="1161" y="1377">14</text>
<text x="1231" y="1322">1</text><text x="1253" y="1322">2</text><text x="1274" y="1322">3</text><text x="1340" y="1322">4</text><text x="1361" y="1322">5</text><text x="1383" y="1322">6</text><text x="1405" y="1322">7</text>
<text x="1231" y="1343">8</text><text x="1253" y="1343">9</text><text x="1274" y="1343">10</text><text x="1296" y="1343">11</text><text x="1318" y="1343">12</text><text x="1340" y="1343">13</text><text x="1361" y="1343">14</text><text x="1383" y="1343">15</text><text x="1405" y="1343">16</text>
<text x="75" y="1476">1</text><text x="97" y="1476">2</text><text x="118" y="1476">3</text><text x="140" y="1476">4</text><text x="161" y="1476">5</text><text x="183" y="1476">6</text><text x="204" y="1476">7</text><text x="226" y="1476">8</text>
<text x="75" y="1497">9</text><text x="97" y="1497">10</text><text x="118" y="1497">11</text><text x="140" y="1497">12</text><text x="161" y="1497">13</text><text x="183" y="1497">14</text><text x="204" y="1497">15</text><text x="226" y="1497">16</text>
<text x="296" y="1476">1</text><text x="318" y="1476">2</text><text x="339" y="1476">3</text><text x="361" y="1476">4</text><text x="382" y="1476">5</text><text x="404" y="1476">6</text><text x="425" y="1476">7</text><text x="447" y="1476">8</text><text x="468" y="1476">9</text><text x="490" y="1476">10</text>
<text x="296" y="1497">11</text><text x="318" y="1497">12</text><text x="339" y="1497">13</text><text x="361" y="1497">14</text><text x="382" y="1497">15</text><text x="404" y="1497">16</text><text x="425" y="1497">17</text><text x="447" y="1497">18</text><text x="468" y="1497">19</text><text x="490" y="1497">20</text>
<text x="562" y="1468">1</text><text x="584" y="1468">2</text><text x="605" y="1468">3</text><text x="627" y="1468">4</text><text x="691" y="1468">5</text><text x="713" y="1468">6</text><text x="734" y="1468">7</text><text x="756" y="1468">8</text><text x="777" y="1468">9</text>
<text x="562" y="1489">10</text><text x="584" y="1489">11</text><text x="605" y="1489">12</text><text x="627" y="1489">13</text><text x="648" y="1489">14</text><text x="670" y="1489">15</text><text x="691" y="1489">16</text><text x="713" y="1489">17</text><text x="734" y="1489">18</text><text x="756" y="1489">19</text><text x="777" y="1489">20</text>
</g>
<text x="1390" y="1540" style="font-size:16px">WI-20995</text>
</svg>
</body></html>
